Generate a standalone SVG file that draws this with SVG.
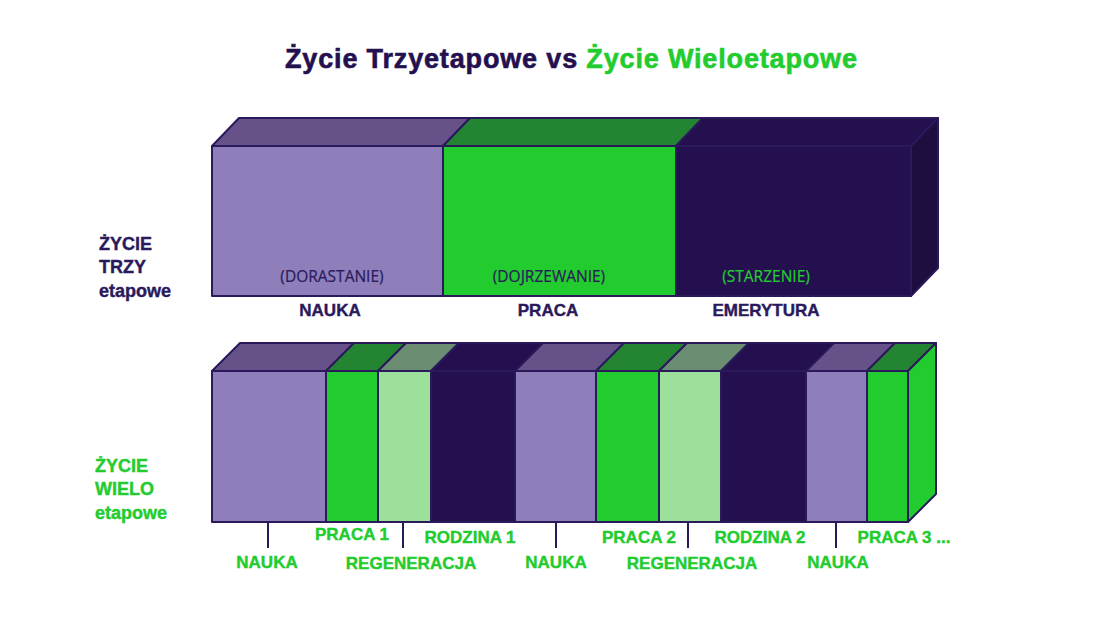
<svg xmlns="http://www.w3.org/2000/svg" width="1100" height="618" viewBox="0 0 1100 618">
<style>
.s{stroke:#2a1a5c;stroke-width:2;stroke-linejoin:round}
.pf{fill:#8e7fba}.pt{fill:#665288}
.gf{fill:#22cc2e}.gt{fill:#238431}
.rf{fill:#9de09c}.rt{fill:#6b8e73}
.df{fill:#24104f}.dt{fill:#24104f}.ds{fill:#1e0d3f}
.lbl{font-family:"Liberation Sans",Arial,sans-serif;font-weight:bold;font-size:17px;text-anchor:middle;stroke-width:0.4}
.nv{fill:#2a1a5c;stroke:#2a1a5c}.gr{fill:#22cc2e;stroke:#22cc2e}
.sub{font-family:"Open Sans","Liberation Sans",sans-serif;font-size:15.5px;text-anchor:middle;stroke-width:0.2}
.side{font-family:"Liberation Sans",Arial,sans-serif;font-weight:bold;font-size:18px;stroke-width:0.4}
.tick{stroke:#2a1a5c;stroke-width:2}
</style>
<rect width="1100" height="618" fill="#ffffff"/>
<text x="571" y="68" font-family="'Liberation Sans',Arial,sans-serif" font-weight="bold" font-size="27" stroke-width="0.6" text-anchor="middle" textLength="572" lengthAdjust="spacing"><tspan fill="#24104f" stroke="#24104f">Życie Trzyetapowe vs </tspan><tspan fill="#22cc2e" stroke="#22cc2e">Życie Wieloetapowe</tspan></text>

<g id="label-trzy" class="side nv">
<text x="99" y="250">ŻYCIE</text>
<text x="99" y="273">TRZY</text>
<text x="99" y="297">etapowe</text>
</g>
<g id="label-wielo" class="side gr">
<text x="95" y="472">ŻYCIE</text>
<text x="95" y="495">WIELO</text>
<text x="95" y="519">etapowe</text>
</g>

<g id="top-nauka">
<polygon class="s pt" points="212,146 443,146 470,118 239,118"/>
<rect class="s pf" x="212" y="146" width="231" height="150"/>
<text class="sub nv" x="332" y="282">(DORASTANIE)</text>
<text class="lbl nv" x="330" y="316">NAUKA</text>
</g>
<g id="top-praca">
<polygon class="s gt" points="443,146 676,146 703,118 470,118"/>
<rect class="s gf" x="443" y="146" width="233" height="150"/>
<text class="sub nv" x="549" y="282">(DOJRZEWANIE)</text>
<text class="lbl nv" x="548" y="316">PRACA</text>
</g>
<g id="top-emerytura">
<polygon class="s dt" points="676,146 911,146 938,118 703,118"/>
<rect class="s df" x="676" y="146" width="235" height="150"/>
<polygon class="s ds" points="911,146 938,118 938,268 911,296"/>
<text class="sub gr" x="766" y="282">(STARZENIE)</text>
<text class="lbl nv" x="766" y="316">EMERYTURA</text>
</g>

<g id="b-nauka1">
<polygon class="s pt" points="212,371 326,371 354,343 240,343"/>
<rect class="s pf" x="212" y="371" width="114" height="151"/>
</g>
<g id="b-praca1">
<polygon class="s gt" points="326,371 378,371 406,343 354,343"/>
<rect class="s gf" x="326" y="371" width="52" height="151"/>
</g>
<g id="b-regen1">
<polygon class="s rt" points="378,371 431,371 459,343 406,343"/>
<rect class="s rf" x="378" y="371" width="53" height="151"/>
</g>
<g id="b-rodzina1">
<polygon class="s dt" points="431,371 515,371 543,343 459,343"/>
<rect class="s df" x="431" y="371" width="84" height="151"/>
</g>
<g id="b-nauka2">
<polygon class="s pt" points="515,371 596,371 624,343 543,343"/>
<rect class="s pf" x="515" y="371" width="81" height="151"/>
</g>
<g id="b-praca2">
<polygon class="s gt" points="596,371 659,371 687,343 624,343"/>
<rect class="s gf" x="596" y="371" width="63" height="151"/>
</g>
<g id="b-regen2">
<polygon class="s rt" points="659,371 721,371 749,343 687,343"/>
<rect class="s rf" x="659" y="371" width="62" height="151"/>
</g>
<g id="b-rodzina2">
<polygon class="s dt" points="721,371 806,371 834,343 749,343"/>
<rect class="s df" x="721" y="371" width="85" height="151"/>
</g>
<g id="b-nauka3">
<polygon class="s pt" points="806,371 867,371 895,343 834,343"/>
<rect class="s pf" x="806" y="371" width="61" height="151"/>
</g>
<g id="b-praca3">
<polygon class="s gt" points="867,371 908,371 936,343 895,343"/>
<rect class="s gf" x="867" y="371" width="41" height="151"/>
<polygon class="s gf" points="908,371 936,343 936,494 908,522"/>
</g>

<g id="connectors">
<line class="tick" x1="268" y1="523" x2="268" y2="548"/>
<line class="tick" x1="403" y1="523" x2="403" y2="548"/>
<line class="tick" x1="556" y1="523" x2="556" y2="548"/>
<line class="tick" x1="688" y1="523" x2="688" y2="548"/>
<line class="tick" x1="836" y1="523" x2="836" y2="548"/>
</g>

<g id="bottom-labels" class="lbl gr">
<text x="267" y="568">NAUKA</text>
<text x="352" y="540">PRACA 1</text>
<text x="411" y="569">REGENERACJA</text>
<text x="470" y="543">RODZINA 1</text>
<text x="556" y="568">NAUKA</text>
<text x="639" y="543">PRACA 2</text>
<text x="692" y="569">REGENERACJA</text>
<text x="760" y="543">RODZINA 2</text>
<text x="838" y="568">NAUKA</text>
<text x="904" y="543">PRACA 3 ...</text>
</g>
</svg>
